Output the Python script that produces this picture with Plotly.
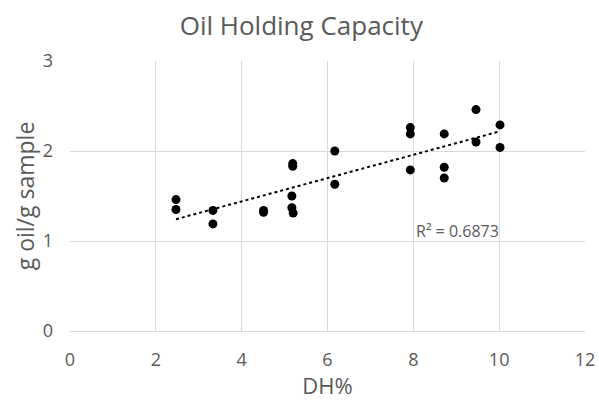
import numpy as np
import plotly.graph_objects as go

dh = [2.47, 2.47, 3.33, 3.33, 4.51, 4.51, 5.17, 5.17, 5.19, 5.19, 5.20,
      6.17, 6.17, 7.93, 7.93, 7.93, 8.72, 8.72, 8.72, 9.46, 9.46, 10.02, 10.02]
ohc = [1.46, 1.35, 1.34, 1.19, 1.34, 1.32, 1.50, 1.37, 1.86, 1.83, 1.31,
       2.00, 1.63, 2.26, 2.19, 1.79, 2.19, 1.82, 1.70, 2.46, 2.10, 2.29, 2.04]
r2_text = "R² = 0.6873"

x = np.array(dh)
y = np.array(ohc)
m, c = np.polyfit(x, y, 1)
tx = [x.min(), x.max()]
ty = [m * v + c for v in tx]

grey = "#595959"
font = "Open Sans"

fig = go.Figure()
fig.add_trace(go.Scatter(x=tx, y=ty, mode="lines",
                         line=dict(color="#000000", width=2, dash="dot"),
                         showlegend=False, hoverinfo="skip"))
fig.add_trace(go.Scatter(x=dh, y=ohc, mode="markers",
                         marker=dict(color="#000000", size=9),
                         showlegend=False))
fig.add_annotation(x=9.02, y=1.114, text=r2_text, showarrow=False,
                   font=dict(family=font, size=16, color=grey))

fig.update_layout(
    width=599, height=400,
    margin=dict(l=70, r=14, t=61, b=69, autoexpand=False),
    paper_bgcolor="white", plot_bgcolor="white",
    title=dict(text="Oil Holding Capacity", x=0.503, xanchor="center",
               xref="container", y=0.935, yanchor="middle", yref="container",
               font=dict(family=font, size=26, color=grey)),
    font=dict(family=font, color=grey),
)
fig.update_xaxes(range=[0, 12], dtick=2, tick0=0, showgrid=True,
                 gridcolor="#d9d9d9", gridwidth=1, zeroline=False,
                 showline=True, linecolor="#d9d9d9", linewidth=1,
                 ticks="", ticklabelstandoff=12, automargin=False,
                 tickfont=dict(size=18, color=grey),
                 title=dict(text="DH%", font=dict(size=22, color=grey), standoff=21))
fig.update_yaxes(range=[0, 3], dtick=1, tick0=0, showgrid=True,
                 gridcolor="#d9d9d9", gridwidth=1, zeroline=False,
                 showline=False, ticks="", ticklabelstandoff=16, automargin=False,
                 tickfont=dict(size=18, color=grey),
                 title=dict(text="g oil/g sample", font=dict(size=23, color=grey), standoff=1))

fig.write_html(
    "out.html",
    config={"displayModeBar": False},
    post_script=("document.documentElement.style.margin='0';"
                 "document.body.style.margin='0';"
                 "document.body.style.overflow='hidden';"
                 "document.documentElement.style.overflow='hidden';"),
)
